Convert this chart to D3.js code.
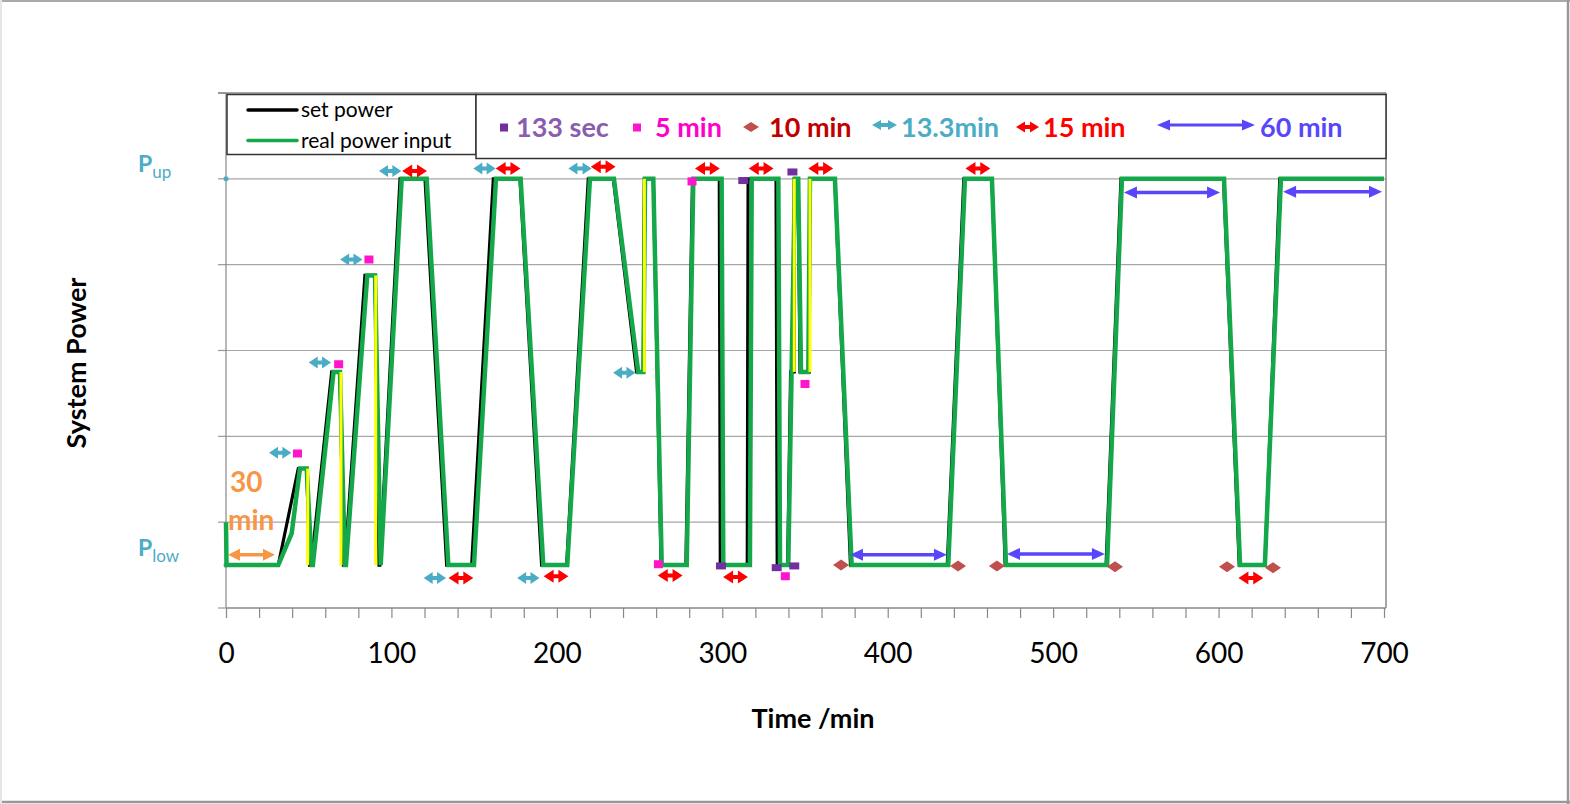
<!DOCTYPE html>
<html>
<head>
<meta charset="utf-8">
<script src="https://cdn.jsdelivr.net/npm/d3@7"></script>
<style>
  html, body { margin: 0; padding: 0; background: #fff; }
  #chart { width: 1570px; height: 804px; }
  text { font-family: Lato, "Open Sans", sans-serif; }
</style>
</head>
<body>
<div id="chart"></div>
<script>

// levels: Plow = 0.5, Pup = 5 (grid units)
// set power [time min, level]
const setPower = [
    [0, 0.5], [31.6, 0.5], [43.7, 1.625], [48.8, 1.625], [50.5, 0.5], [51.5, 0.5],
    [63.9, 2.75], [68.9, 2.75], [71, 0.5], [71.8, 0.5], [84, 3.875], [90.1, 3.875],
    [92.5, 0.5], [93, 0.5], [105.2, 5], [120.3, 5], [133.4, 0.5], [148.5, 0.5],
    [161.6, 5], [177.7, 5], [190.8, 0.5], [205.9, 0.5], [219, 5], [234.1, 5],
    [248.2, 2.75], [252.3, 2.75], [252.9, 5], [258.3, 5], [263, 0.5], [278, 0.5],
    [282, 5], [298.2, 5], [298.8, 0.5], [315.1, 0.5], [315.6, 5], [332.5, 5],
    [333.2, 0.5], [339.5, 0.5], [341.3, 2.75], [343.5, 2.75], [343.5, 5], [345.8, 5],
    [347, 2.75], [352.5, 2.75], [353, 5], [368, 5], [377.5, 0.5], [436, 0.5],
    [446, 5], [463, 5], [471, 0.5], [532, 0.5], [541, 5], [603, 5],
    [612.5, 0.5], [628, 0.5], [637, 5], [700, 5]
];

// real power input [time min, level]
const realPower = [
    [0, 1.0], [0.3, 0.5], [31.6, 0.5], [39.7, 0.87], [44.7, 1.625], [48.8, 1.625],
    [51.8, 0.5], [52.5, 0.5], [65, 2.75], [68.9, 2.75], [71.9, 0.5], [72.5, 0.5],
    [85.4, 3.875], [90.1, 3.875], [93.5, 0.5], [106.2, 5], [121.3, 5], [134.4, 0.5],
    [149.9, 0.5], [163.2, 5], [178.1, 5], [191.8, 0.5], [206.3, 0.5], [220, 5],
    [234.5, 5], [249.2, 2.75], [252.3, 2.75], [253.3, 5], [258.3, 5], [263.4, 0.5],
    [278.5, 0.5], [282.5, 5], [299.6, 5], [300.6, 0.5], [316.7, 0.5], [317.8, 5],
    [333.9, 5], [334.9, 0.5], [339.9, 0.5], [341.9, 2.75], [343.9, 5], [345.9, 5],
    [347.6, 2.75], [352, 2.75], [353, 5], [368.1, 5], [378.2, 0.5], [436.6, 0.5],
    [446.7, 5], [463, 5], [471.5, 0.5], [532.6, 0.5], [541.6, 5], [603.3, 5],
    [613, 0.5], [628, 0.5], [637.7, 5], [700, 5]
];

// yellow step markers [time, from level, to level]
const yellowSteps = [
    [49.4, 1.625, 0.5], [69.5, 2.75, 0.5], [90.5, 3.875, 0.5],
    [252.9, 2.75, 5], [343.5, 2.75, 5], [353, 2.75, 5]
];

// annotations
const arrows13 = [
    [26, 39.5, 1.81], [50, 63.5, 2.86], [69, 82.5, 4.06], [92.5, 106, 5.09],
    [149.5, 163, 5.12], [207, 221, 5.12], [234, 247.5, 2.74],
    [119.5, 133, 0.35], [176, 189.5, 0.35]
];
const arrows15 = [
    [106.5, 121.5, 5.09], [163, 178, 5.12], [220.5, 235.5, 5.14], [283.5, 298.5, 5.12],
    [316, 331, 5.12], [352, 367, 5.12], [447, 462, 5.12],
    [134.5, 149.5, 0.35], [192, 207, 0.37], [261, 276, 0.38], [300.5, 315.5, 0.36],
    [612, 627, 0.35]
];
const arrows60 = [[377.2, 435.8, 0.62], [472.1, 531.3, 0.63], [542.8, 600.9, 4.84], [639, 698.8, 4.85]];
const arrows30 = [[1.2, 29.6, 0.62]];
const marks5min = [[43.2, 1.8], [68.1, 2.84], [86.4, 4.06], [261.4, 0.51], [281.7, 4.97], [350, 2.61], [338.1, 0.37]];
const marks133s = [[312.7, 4.98], [342.4, 5.08], [299.2, 0.49], [332.9, 0.47], [343.5, 0.49]];
const marks10min = [[371.8, 0.5], [442.5, 0.49], [466, 0.49], [537.4, 0.48], [605.1, 0.48], [632.9, 0.47]];

const legendSeries = ["set power", "real power input"];
const legendKeys = ["133 sec", "5 min", "10 min", "13.3min", "15 min", "60 min"];
const xTickValues = d3.range(0, 701, 20);
const yLabelLevels = [5, 0.5];
const yLabelSubs = ["up", "low"];

const W = 1570, H = 804;
const colTeal = "#4BACC6", colRed = "#FF0000", colBlue = "#5A46FA", colOrange = "#F79646",
      colMagenta = "#FF14CC", colPurple = "#7030A0", colBrown = "#C0504D", colGreen = "#14A84A";

let svg = d3.select('#chart').append('svg')
    .attr('width', W)
    .attr('height', H);

// outer frame
svg.append("rect").attr("width", W).attr("height", H).attr("fill", "#fff");
svg.append("line").attr("x1", 0).attr("x2", W).attr("y1", 1).attr("y2", 1).attr("stroke", "#aaa").attr("stroke-width", 2);
svg.append("line").attr("x1", W - 2).attr("x2", W - 2).attr("y1", 0).attr("y2", H).attr("stroke", "#999").attr("stroke-width", 2.5);
svg.append("line").attr("x1", 0).attr("x2", W).attr("y1", H - 2).attr("y2", H - 2).attr("stroke", "#999").attr("stroke-width", 2.5);
svg.append("line").attr("x1", 1).attr("x2", 1).attr("y1", 0).attr("y2", H).attr("stroke", "#e6e6e6").attr("stroke-width", 2);

const x = d3.scaleLinear().domain([0, 700]).range([226, 1384]);
const y = d3.scaleLinear().domain([0, 6]).range([608, 93]);
const plotRight = 1386;

// gridlines
svg.append("g").selectAll("line")
    .data([1, 2, 3, 4, 5])
    .join("line")
    .attr("x1", x(0)).attr("x2", plotRight)
    .attr("y1", d => y(d)).attr("y2", d => y(d))
    .attr("stroke", "#a6a6a6").attr("stroke-width", 1.2);

// y axis ticks + frame
svg.append("g").selectAll("line")
    .data(d3.range(0, 7))
    .join("line")
    .attr("x1", 218).attr("x2", x(0))
    .attr("y1", d => y(d)).attr("y2", d => y(d))
    .attr("stroke", "#999").attr("stroke-width", 1.2);
svg.append("line").attr("x1", x(0)).attr("x2", x(0)).attr("y1", y(6)).attr("y2", y(0)).attr("stroke", "#888").attr("stroke-width", 1.2);
svg.append("line").attr("x1", plotRight).attr("x2", plotRight).attr("y1", y(6)).attr("y2", y(0)).attr("stroke", "#888").attr("stroke-width", 1.5);
svg.append("line").attr("x1", 218).attr("x2", plotRight).attr("y1", y(6)).attr("y2", y(6)).attr("stroke", "#888").attr("stroke-width", 1.5);

// x axis
const xAxis = svg.append("g")
    .attr("transform", `translate(0,${y(0)})`)
    .call(d3.axisBottom(x)
        .tickValues(xTickValues)
        .tickSize(10)
        .tickPadding(25)
        .tickFormat(d => d % 100 === 0 ? d : ""));
xAxis.select(".domain").attr("stroke", "#888").attr("stroke-width", 1.5)
    .attr("d", `M${x(0)},0H${plotRight}`);
xAxis.selectAll(".tick line").attr("stroke", "#888").attr("stroke-width", 1.2);
xAxis.selectAll(".tick text")
    .attr("font-family", "Lato, 'Open Sans', sans-serif")
    .attr("font-size", 28)
    .attr("fill", "#000");

// y labels P_up / P_low
yLabelLevels.forEach((lv, i) => {
    let t = svg.append("text")
        .attr("x", 138)
        .attr("y", y(lv) - 7 + (i === 1 ? -2 : 0))
        .attr("fill", colTeal)
        .attr("font-size", 23)
        .attr("font-weight", "bold");
    t.append("tspan").text("P");
    t.append("tspan").attr("dy", 6).attr("font-size", 17).attr("font-weight", "normal").text(yLabelSubs[i]);
    svg.append("circle").attr("cx", x(0)).attr("cy", y(lv)).attr("r", 2.5).attr("fill", colTeal);
});

// axis titles
svg.append("text")
    .attr("transform", `translate(86,363) rotate(-90)`)
    .attr("text-anchor", "middle")
    .attr("font-size", 27).attr("font-weight", "bold")
    .text("System Power");
svg.append("text")
    .attr("x", 813).attr("y", 728)
    .attr("text-anchor", "middle")
    .attr("font-size", 27).attr("font-weight", "bold")
    .text("Time /min");

// series
const line = d3.line().x(d => x(d[0])).y(d => y(d[1]));

svg.append("path")
    .datum(setPower)
    .attr("d", line)
    .attr("fill", "none").attr("stroke", "#000").attr("stroke-width", 3.2)
    .attr("stroke-linejoin", "miter").attr("stroke-miterlimit", 3);

svg.append("path")
    .datum(realPower)
    .attr("d", line)
    .attr("fill", "none").attr("stroke", colGreen).attr("stroke-width", 4.5)
    .attr("stroke-linejoin", "miter").attr("stroke-miterlimit", 3);

svg.append("g").selectAll("line")
    .data(yellowSteps)
    .join("line")
    .attr("x1", d => x(d[0])).attr("x2", d => x(d[0]))
    .attr("y1", d => y(d[1])).attr("y2", d => y(d[2]))
    .attr("stroke", "#FFFF00").attr("stroke-width", 3);

// annotation shapes
function arrowPath(x0, x1, yy, hl, hh, s) {
    return `M${x0},${yy}L${x0 + hl},${yy - hh / 2}V${yy - s / 2}H${x1 - hl}V${yy - hh / 2}` +
        `L${x1},${yy}L${x1 - hl},${yy + hh / 2}V${yy + s / 2}H${x0 + hl}V${yy + hh / 2}Z`;
}

function drawArrows(data, color, hl, hh, s) {
    svg.append("g").selectAll("path")
        .data(data)
        .join("path")
        .attr("d", d => arrowPath(x(d[0]), x(d[1]), y(d[2]), hl, hh, s))
        .attr("fill", color);
}

drawArrows(arrows13, colTeal, 9, 12, 4);
drawArrows(arrows15, colRed, 10, 13, 4);
drawArrows(arrows60, colBlue, 13, 12, 3.5);
drawArrows(arrows30, colOrange, 12, 12, 3.5);

svg.append("g").selectAll("rect")
    .data(marks5min)
    .join("rect")
    .attr("x", d => x(d[0]) - 4.5).attr("y", d => y(d[1]) - 4)
    .attr("width", 9).attr("height", 8)
    .attr("fill", colMagenta);

svg.append("g").selectAll("rect")
    .data(marks133s)
    .join("rect")
    .attr("x", d => x(d[0]) - 5).attr("y", d => y(d[1]) - 3.5)
    .attr("width", 10).attr("height", 7)
    .attr("fill", colPurple);

svg.append("g").selectAll("path")
    .data(marks10min)
    .join("path")
    .attr("d", d => {
        let cx = x(d[0]), cy = y(d[1]);
        return `M${cx - 8},${cy}L${cx},${cy - 5.5}L${cx + 8},${cy}L${cx},${cy + 5.5}Z`;
    })
    .attr("fill", colBrown);

// 30 min label
svg.append("text").attr("x", 230).attr("y", 492)
    .attr("fill", colOrange).attr("font-size", 28).attr("font-weight", "bold").text("30");
svg.append("text").attr("x", 228).attr("y", 530)
    .attr("fill", colOrange).attr("font-size", 28).attr("font-weight", "bold").text("min");

// legend box 1: series
svg.append("rect").attr("x", 227).attr("y", 94.5).attr("width", 249).attr("height", 60)
    .attr("fill", "#fff").attr("stroke", "#333").attr("stroke-width", 1.5);
[["#000", 110], [colGreen, 140.5]].forEach((c, i) => {
    svg.append("line").attr("x1", 248).attr("x2", 297).attr("y1", c[1]).attr("y2", c[1])
        .attr("stroke", c[0]).attr("stroke-width", 3.5).attr("stroke-linecap", "round");
    svg.append("text").attr("x", 301).attr("y", c[1] + 7)
        .attr("font-size", 21).attr("fill", "#000").text(legendSeries[i]);
});

// legend box 2: markers
svg.append("rect").attr("x", 476).attr("y", 94.5).attr("width", plotRight - 476).attr("height", 64)
    .attr("fill", "#fff").attr("stroke", "#333").attr("stroke-width", 1.5);

const keyY = 127;
svg.append("rect").attr("x", 500).attr("y", keyY - 3.5).attr("width", 8).attr("height", 8).attr("fill", colPurple);
svg.append("rect").attr("x", 633).attr("y", keyY - 3.5).attr("width", 8).attr("height", 8).attr("fill", colMagenta);
svg.append("path").attr("d", `M743,${keyY}L751,${keyY - 5}L759,${keyY}L751,${keyY + 5}Z`).attr("fill", colBrown);
svg.append("path").attr("d", arrowPath(872, 897, keyY - 2, 9, 10, 4)).attr("fill", colTeal);
svg.append("path").attr("d", arrowPath(1016, 1039, keyY, 9, 11, 4)).attr("fill", colRed);
svg.append("path").attr("d", arrowPath(1157, 1255, keyY - 2, 13, 11, 3)).attr("fill", colBlue);

const keyText = [[516, "#8A5CB0"], [655, "#FF00CC"], [769, "#C00000"],
                 [901, colTeal], [1043, "#FF0000"], [1260, colBlue]];
keyText.forEach((k, i) => {
    svg.append("text").attr("x", k[0]).attr("y", 137)
        .attr("font-size", 27).attr("font-weight", "bold").attr("fill", k[1])
        .text(legendKeys[i]);
});

</script>
</body>
</html>
